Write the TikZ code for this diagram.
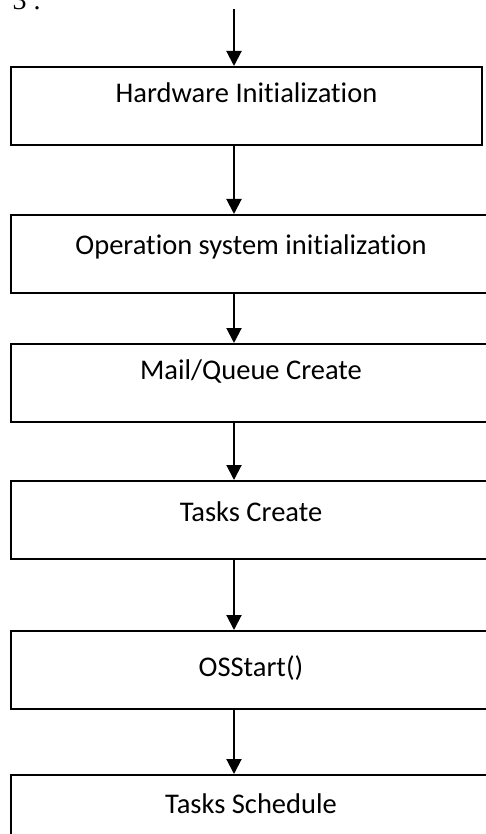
\documentclass[tikz,border=0pt]{standalone}
\usepackage{fontspec}
\setmainfont{Carlito}[Ligatures=NoCommon]
\newfontfamily\numfont{Liberation Serif}
\usepackage{tikz}
\usetikzlibrary{arrows.meta,positioning}

\begin{document}
\begin{tikzpicture}[
    box/.style={rectangle, draw=black, line width=2pt, fill=white, inner sep=0pt,
                minimum width=480pt, text height=#1, text depth={78pt-#1},
                font=\fontsize{28.5}{34}\selectfont},
    box/.default=37pt,
    arr/.style={-{Triangle[length=15pt, width=15pt]}, black, line width=2pt}]
\useasboundingbox (0,0) rectangle (486pt,-834pt);
\clip (0,0) rectangle (486pt,-834pt);
\node[anchor=base west, font=\numfont\fontsize{28}{34}\selectfont] (num) at (9pt,-10pt) {3 .};
\coordinate (start) at (234pt,-9pt);
\node[box=36pt, minimum width=471pt, anchor=north west] (hw) at (10pt,-66pt) {Hardware Initialization};
\node[box=39pt, below=68pt of hw, xshift=4.5pt] (os) {Operation system initialization};
\node[box=35pt, below=49pt of os] (mq) {Mail/Queue Create};
\node[box=40pt, below=57pt of mq] (tc) {Tasks Create};
\node[box=45pt, below=70pt of tc] (st) {OSStart()};
\node[box=38pt, below=64pt of st] (ts) {Tasks Schedule};
\draw[arr] (start) -- (hw.north -| start);
\draw[arr] (hw.south -| start) -- (os.north -| start);
\draw[arr] (os.south -| start) -- (mq.north -| start);
\draw[arr] (mq.south -| start) -- (tc.north -| start);
\draw[arr] (tc.south -| start) -- (st.north -| start);
\draw[arr] (st.south -| start) -- (ts.north -| start);
\end{tikzpicture}
\end{document}
